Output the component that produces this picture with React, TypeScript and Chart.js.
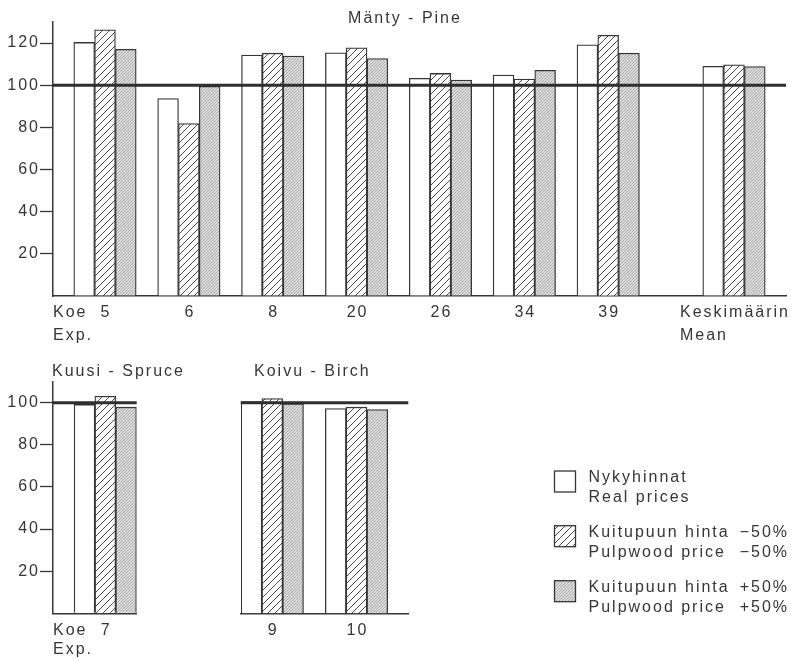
import React, { useEffect, useRef } from 'react';
import { Chart, registerables } from 'chart.js';

Chart.register(...registerables);

// ---------------- data ----------------
const seriesNames = ['Nykyhinnat', 'Kuitupuun hinta −50%', 'Kuitupuun hinta +50%'];
const legendLines = [
  ['Nykyhinnat', 'Real prices'],
  ['Kuitupuun hinta', 'Pulpwood price'],
  ['Kuitupuun hinta', 'Pulpwood price'],
];
const legendSuffix = ['', '−50%', '+50%'];

const pineTitle = 'Mänty - Pine';
const pineLabels = [['5'], ['6'], ['8'], ['20'], ['26'], ['34'], ['39'], ['Keskimäärin', 'Mean']];
const pineReal = [120.3, 93.7, 114.3, 115.4, 103.3, 104.8, 119.2, 109.0];
const pineMinus = [126.3, 81.8, 115.2, 117.8, 105.6, 102.9, 123.7, 109.7];
const pinePlus = [117.0, 99.5, 113.8, 112.7, 102.5, 107.1, 115.2, 108.9];

const spruceTitle = 'Kuusi - Spruce';
const spruceLabels = [['7']];
const spruceReal = [99.2];
const spruceMinus = [103.1];
const sprucePlus = [97.9];

const birchTitle = 'Koivu - Birch';
const birchLabels = [['9'], ['10']];
const birchReal = [100.6, 97.2];
const birchMinus = [102.0, 97.9];
const birchPlus = [99.5, 96.8];

const pineTicks = [20, 40, 60, 80, 100, 120];
const spruceTicks = [20, 40, 60, 80, 100];
const referenceLevel = 100;
const axisPrefix = ['Koe', 'Exp.'];

// ---------------- styles ----------------
const INK = '#363636';
const FONT = '"Liberation Sans", Arial, sans-serif';
const FSIZE = 16;
const SPACING = '2px';

function makeHatch(): CanvasPattern | string {
  const c = document.createElement('canvas');
  c.width = 7; c.height = 7;
  const g = c.getContext('2d');
  if (!g) return '#fff';
  g.fillStyle = '#ffffff';
  g.fillRect(0, 0, 7, 7);
  g.strokeStyle = '#4a4a4a';
  g.lineWidth = 1;
  g.beginPath();
  g.moveTo(-1, 8); g.lineTo(8, -1);
  g.moveTo(-1, 1); g.lineTo(1, -1);
  g.moveTo(6, 8); g.lineTo(8, 6);
  g.stroke();
  return g.createPattern(c, 'repeat') as CanvasPattern;
}

function makeFine(): CanvasPattern | string {
  const c = document.createElement('canvas');
  c.width = 3; c.height = 3;
  const g = c.getContext('2d');
  if (!g) return '#ccc';
  g.fillStyle = '#dedede';
  g.fillRect(0, 0, 3, 3);
  g.strokeStyle = '#a2a2a2';
  g.lineWidth = 0.9;
  g.beginPath();
  g.moveTo(-1, 4); g.lineTo(4, -1);
  g.stroke();
  return g.createPattern(c, 'repeat') as CanvasPattern;
}

type Deco = {
  title: string;
  titleX: number;
  titleY: number;
  titleAlign: CanvasTextAlign;
  labels: string[][];
  xs: number[];
  prefix: boolean;
  line1: number;
  lineGap: number;
  legend?: { x: number; y: number[]; textX: number; rightX: number; fills: (CanvasPattern | string)[] };
};

function decoPlugin(d: Deco) {
  return {
    id: 'deco',
    beforeDraw(chart: any) {
      chart.ctx.letterSpacing = SPACING;
    },
    afterDatasetsDraw(chart: any) {
      const { ctx, chartArea } = chart;
      const y = chart.scales.y.getPixelForValue(referenceLevel);
      ctx.save();
      ctx.strokeStyle = '#2e2e2e';
      ctx.lineWidth = 3;
      ctx.beginPath();
      ctx.moveTo(chartArea.left, y);
      ctx.lineTo(chartArea.right, y);
      ctx.stroke();
      ctx.restore();
    },
    afterDraw(chart: any) {
      const { ctx, chartArea } = chart;
      const xs = chart.scales.x;
      ctx.save();
      ctx.letterSpacing = SPACING;
      ctx.fillStyle = INK;
      ctx.font = `${FSIZE}px ${FONT}`;
      ctx.textBaseline = 'alphabetic';
      // title
      ctx.textAlign = d.titleAlign;
      ctx.fillText(d.title, d.titleX, d.titleY);
      // category labels
      const b1 = chartArea.bottom + d.line1;
      d.labels.forEach((lines, i) => {
        const cx = xs.getPixelForValue(d.xs[i]);
        if (lines.length === 1) {
          ctx.textAlign = 'center';
          ctx.fillText(lines[0], cx + 1, b1);
        } else {
          const w = Math.max(...lines.map((l) => ctx.measureText(l).width));
          ctx.textAlign = 'left';
          lines.forEach((l, k) => ctx.fillText(l, cx - w / 2 + 1, b1 + k * d.lineGap));
        }
      });
      if (d.prefix) {
        ctx.textAlign = 'left';
        axisPrefix.forEach((t, k) => ctx.fillText(t, chartArea.left, b1 + k * d.lineGap));
      }
      // legend
      if (d.legend) {
        const L = d.legend;
        L.y.forEach((by, i) => {
          ctx.fillStyle = L.fills[i] as any;
          ctx.fillRect(L.x, by, 21, 21);
          ctx.strokeStyle = INK;
          ctx.lineWidth = 1.3;
          ctx.strokeRect(L.x, by, 21, 21);
          ctx.fillStyle = INK;
          ctx.textBaseline = 'middle';
          ctx.textAlign = 'left';
          ctx.fillText(legendLines[i][0], L.textX, by + 7);
          ctx.fillText(legendLines[i][1], L.textX, by + 27);
          if (legendSuffix[i]) {
            ctx.textAlign = 'right';
            ctx.fillText(legendSuffix[i], L.rightX, by + 7);
            ctx.fillText(legendSuffix[i], L.rightX, by + 27);
          }
        });
      }
      ctx.restore();
    },
  };
}

type PanelCfg = {
  width: number;
  height: number;
  xs: number[];
  real: number[];
  minus: number[];
  plus: number[];
  xMin: number;
  xMax: number;
  yMax: number;
  ticks: number[] | null;
  padding: { top: number; right: number; left: number; bottom: number };
  yWidth: number;
  xHeight: number;
  deco: Omit<Deco, 'xs' | 'legend'> & { legend?: Omit<NonNullable<Deco['legend']>, 'fills'> };
};

function Panel({ cfg, style }: { cfg: PanelCfg; style: React.CSSProperties }) {
  const ref = useRef<HTMLCanvasElement | null>(null);
  useEffect(() => {
    if (!ref.current) return;
    const hatch = makeHatch();
    const fine = makeFine();
    const fills = ['#ffffff', hatch, fine];
    const mk = (vals: number[], i: number) => ({
      label: seriesNames[i],
      data: vals.map((v, k) => ({ x: cfg.xs[k], y: v })),
      backgroundColor: fills[i],
      borderColor: INK,
      borderWidth: 1.3,
      barThickness: 20.8,
    });
    const chart = new Chart(ref.current, {
      type: 'bar',
      data: { datasets: [mk(cfg.real, 0), mk(cfg.minus, 1), mk(cfg.plus, 2)] as any },
      options: {
        animation: false,
        responsive: false,
        maintainAspectRatio: false,
        layout: { padding: cfg.padding },
        plugins: { legend: { display: false }, tooltip: { enabled: false }, title: { display: false } },
        scales: {
          x: {
            type: 'linear',
            offset: false,
            min: cfg.xMin,
            max: cfg.xMax,
            z: 1,
            grid: { display: false, offset: false },
            border: { display: true, color: INK, width: 1.5 },
            ticks: { display: false },
            afterFit: (s: any) => { s.height = cfg.xHeight; },
          },
          y: {
            display: cfg.ticks !== null,
            min: 0,
            max: cfg.yMax,
            z: 1,
            grid: {
              drawOnChartArea: false,
              drawTicks: true,
              tickLength: 13,
              tickColor: (c: any) => (c.tick && c.tick.value > 0 ? INK : 'rgba(0,0,0,0)'),
              tickWidth: 1.3,
            },
            border: { display: true, color: INK, width: 1.5 },
            afterBuildTicks: (s: any) => {
              if (cfg.ticks) s.ticks = [0, ...cfg.ticks].map((v) => ({ value: v }));
            },
            ticks: {
              padding: 0,
              color: INK,
              font: { family: FONT, size: FSIZE },
              callback: (v: any) => (v === 0 ? '' : String(v)),
            },
            afterFit: (s: any) => { s.width = cfg.yWidth; },
          },
        },
      } as any,
      plugins: [decoPlugin({ ...(cfg.deco as any), xs: cfg.xs, legend: cfg.deco.legend ? { ...cfg.deco.legend, fills } : undefined })],
    });
    return () => chart.destroy();
  }, [cfg]);
  return <canvas ref={ref} width={cfg.width} height={cfg.height} style={{ position: 'absolute', ...style }} />;
}

// positions of groups along the linear x-axis (mean set off by an extra half step)
const pineX = pineLabels.map((_, i) => (i === pineLabels.length - 1 ? i + 1.5 : i + 1));
const spruceX = spruceLabels.map((_, i) => i + 1);
const birchX = birchLabels.map((_, i) => i + 1);

const pineCfg: PanelCfg = {
  width: 791, height: 345, xs: pineX, real: pineReal, minus: pineMinus, plus: pinePlus,
  xMin: 0.38, xMax: 9.12, yMax: 130, ticks: pineTicks,
  padding: { top: 22, right: 5, left: 0, bottom: 0 }, yWidth: 53, xHeight: 49,
  deco: { title: pineTitle, titleX: 405, titleY: 23, titleAlign: 'center', labels: pineLabels, prefix: true, line1: 21, lineGap: 22.5 },
};
const spruceCfg: PanelCfg = {
  width: 200, height: 315, xs: spruceX, real: spruceReal, minus: spruceMinus, plus: sprucePlus,
  xMin: 0.377, xMax: 1.374, yMax: 110, ticks: spruceTicks,
  padding: { top: 36.7, right: 63.3, left: 0, bottom: 0 }, yWidth: 53, xHeight: 46.7,
  deco: { title: spruceTitle, titleX: 52, titleY: 31, titleAlign: 'left', labels: spruceLabels, prefix: true, line1: 21.7, lineGap: 18.5 },
};
const birchCfg: PanelCfg = {
  width: 591, height: 315, xs: birchX, real: birchReal, minus: birchMinus, plus: birchPlus,
  xMin: 0.625, xMax: 2.615, yMax: 110, ticks: null,
  padding: { top: 36.7, right: 382.7, left: 40.7, bottom: 0 }, yWidth: 0, xHeight: 46.7,
  deco: {
    title: birchTitle, titleX: 54, titleY: 31, titleAlign: 'left', labels: birchLabels, prefix: false, line1: 21.7, lineGap: 18.5,
    legend: { x: 354.5, y: [126, 180.7, 235.7], textX: 388.5, rightX: 589 },
  },
};

export default function App() {
  useEffect(() => {
    document.body.style.margin = '0';
    document.body.style.background = '#ffffff';
  }, []);
  return (
    <div style={{ position: 'relative', width: 791, height: 660, background: '#fff', overflow: 'hidden' }}>
      <Panel cfg={pineCfg} style={{ left: 0, top: 0 }} />
      <Panel cfg={spruceCfg} style={{ left: 0, top: 345 }} />
      <Panel cfg={birchCfg} style={{ left: 200, top: 345 }} />
    </div>
  );
}
